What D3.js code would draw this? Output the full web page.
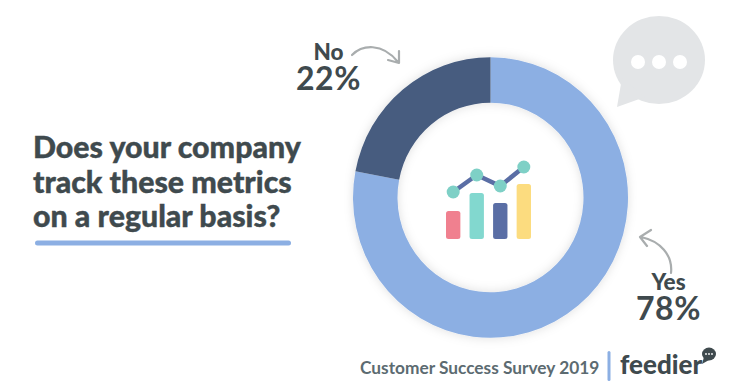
<!DOCTYPE html>
<html>
<head>
<meta charset="utf-8">
<script src="https://cdn.jsdelivr.net/npm/d3@7"></script>
<style>
  html, body { margin: 0; padding: 0; background: #fff; }
  text { font-family: Lato, "Open Sans", sans-serif; }
</style>
</head>
<body>
<div id="chart"></div>
<script>
// survey answers
const answers = ["Yes", "No"];
const answerValues = [78, 22];
const answerColors = ["#8cafe3", "#475c7f"];

// title text
const titleLines = ["Does your company", "track these metrics", "on a regular basis?"];
const footerText = "Customer Success Survey 2019";
const brandText = "feedier";

// little chart icon in the middle of the donut
const iconBars = [28, 46, 36, 55];
const iconLine = [47, 64, 53, 72];
const iconSlots = ["a", "b", "c", "d"];
const iconBarColors = ["#f0808f", "#82d8cf", "#5a6ea5", "#fcdc7f"];

function donutChart() {
    const xSize = 729; const ySize = 387;
    const textColor = "#3f4a4e";
    const arrowColor = "#a9adae";

    const svg = d3.select("#chart")
        .append("svg")
        .attr("width", xSize)
        .attr("height", ySize)
        .style("display", "block");

    const defs = svg.append("defs");
    const shadow = defs.append("filter")
        .attr("id", "soft")
        .attr("x", "-20%").attr("y", "-20%")
        .attr("width", "140%").attr("height", "140%");
    shadow.append("feDropShadow")
        .attr("dx", 0).attr("dy", 0)
        .attr("stdDeviation", 5)
        .attr("flood-color", "#000")
        .attr("flood-opacity", 0.13);

    // Title
    svg.append("g").selectAll("text")
        .data(titleLines)
        .enter()
        .append("text")
        .attr("x", 33)
        .attr("y", function (d, i) { return 158 + i * 34.5; })
        .attr("font-size", 30.3)
        .attr("font-weight", 900)
        .attr("fill", textColor)
        .attr("stroke", textColor)
        .attr("stroke-width", 0.4)
        .text(function (d) { return d; });

    svg.append("rect")
        .attr("x", 35).attr("y", 240.5)
        .attr("width", 256).attr("height", 5)
        .attr("rx", 2.5)
        .attr("fill", answerColors[0]);

    // Donut, slightly taller than wide like the original
    const donut = svg.append("g")
        .attr("transform", "translate(490.5,197.5) scale(1,1.02)");
    const pie = d3.pie().sort(null);
    const arc = d3.arc().innerRadius(93).outerRadius(137.5);
    donut.append("g")
        .attr("filter", "url(#soft)")
        .selectAll("path")
        .data(pie(answerValues))
        .enter()
        .append("path")
        .attr("fill", function (d, i) { return answerColors[i]; })
        .attr("d", arc);

    // Icon
    const iconX = d3.scaleBand().domain(iconSlots).range([446, 531]).paddingInner(0.39);
    const iconY = d3.scaleLinear().domain([0, 55]).range([239, 184]);
    const icon = svg.append("g");
    icon.selectAll("rect")
        .data(iconBars)
        .enter()
        .append("rect")
        .attr("x", function (d, i) { return iconX(iconSlots[i]); })
        .attr("y", function (d) { return iconY(d); })
        .attr("width", iconX.bandwidth())
        .attr("height", function (d) { return iconY(0) - iconY(d); })
        .attr("rx", 2.5)
        .attr("fill", function (d, i) { return iconBarColors[i]; });
    const iconMid = function (d, i) { return iconX(iconSlots[i]) + iconX.bandwidth() / 2; };
    icon.append("path")
        .attr("fill", "none")
        .attr("stroke", iconBarColors[2])
        .attr("stroke-width", 4.5)
        .attr("d", d3.line().x(iconMid).y(function (d) { return iconY(d); })(iconLine));
    icon.selectAll("circle")
        .data(iconLine)
        .enter()
        .append("circle")
        .attr("cx", iconMid)
        .attr("cy", function (d) { return iconY(d); })
        .attr("r", 6.5)
        .attr("fill", "#7ed0c6");

    // Labels, name and percent as one text element
    const labels = [
        { name: answers[1], value: answerValues[1], x: 328.5, y: 60 },
        { name: answers[0], value: answerValues[0], x: 668.5, y: 290 }
    ];
    labels.forEach(function (l) {
        const label = svg.append("text")
            .attr("text-anchor", "middle")
            .attr("fill", textColor);
        label.append("tspan")
            .attr("x", l.x).attr("y", l.y)
            .attr("font-size", 22.5)
            .attr("font-weight", 900)
            .text(l.name);
        label.append("tspan")
            .attr("x", l.x).attr("y", l.y + 30)
            .attr("font-size", 32)
            .attr("font-weight", 700)
            .attr("letter-spacing", 0.6)
            .text(l.value + "%");
    });

    // Curved arrows next to the labels
    const arrows = [
        "M352,55 C362,45 382,42 398,62 M399,51 L399,63 L388,60",
        "M671,273 C673,255 660,241 641,237 M651,230 L640,237 L647,246"
    ];
    svg.append("g").selectAll("path")
        .data(arrows)
        .enter()
        .append("path")
        .attr("fill", "none")
        .attr("stroke", arrowColor)
        .attr("stroke-width", 2.2)
        .attr("stroke-linecap", "round")
        .attr("stroke-linejoin", "round")
        .attr("d", function (d) { return d; });

    // Speech bubble
    const bubble = svg.append("g");
    bubble.append("ellipse")
        .attr("cx", 659).attr("cy", 60)
        .attr("rx", 46).attr("ry", 44)
        .attr("fill", "#e3e5e7");
    bubble.append("path")
        .attr("d", "M622,78 L617,107 L645,97 Z")
        .attr("fill", "#e3e5e7");
    bubble.selectAll("circle")
        .data([638, 659, 680])
        .enter()
        .append("circle")
        .attr("cx", function (d) { return d; })
        .attr("cy", 62)
        .attr("r", 7)
        .attr("fill", "#fff");

    // Footer
    svg.append("text")
        .attr("x", 360).attr("y", 374)
        .attr("font-size", 17.3)
        .attr("font-weight", 700)
        .attr("fill", "#5c6b71")
        .text(footerText);
    svg.append("rect")
        .attr("x", 607.5).attr("y", 351)
        .attr("width", 3).attr("height", 30)
        .attr("rx", 1.5)
        .attr("fill", answerColors[0]);
    svg.append("text")
        .attr("x", 620).attr("y", 374)
        .attr("font-size", 26)
        .attr("font-weight", 900)
        .attr("fill", textColor)
        .text(brandText);
    const logo = svg.append("g");
    logo.append("ellipse")
        .attr("cx", 709).attr("cy", 354)
        .attr("rx", 7).attr("ry", 6.5)
        .attr("fill", textColor);
    logo.append("path")
        .attr("d", "M704,357 L702,364 L709,360 Z")
        .attr("fill", textColor);
    logo.selectAll("circle")
        .data([706, 709, 712])
        .enter()
        .append("circle")
        .attr("cx", function (d) { return d; })
        .attr("cy", 354)
        .attr("r", 0.9)
        .attr("fill", "#fff");
}

window.addEventListener("load", function () {
    donutChart();
});
</script>
</body>
</html>
